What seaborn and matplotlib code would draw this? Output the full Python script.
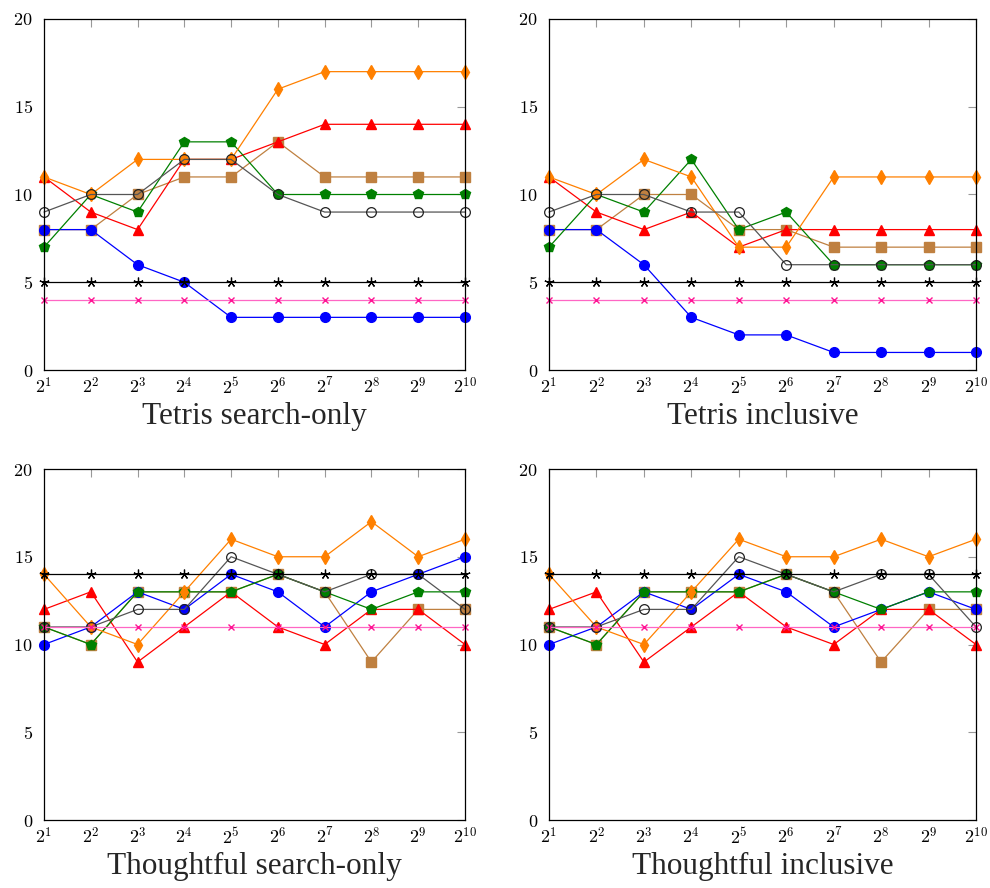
import matplotlib
matplotlib.use("Agg")
import matplotlib.pyplot as plt
import seaborn as sns
import numpy as np

sns.set_theme(style="white")
plt.rcParams['mathtext.fontset'] = 'cm'
plt.rcParams['font.family'] = ['Liberation Serif', 'DejaVu Serif']

x_exp = [1, 2, 3, 4, 5, 6, 7, 8, 9, 10]
x_labels = [r'$2^{%d}$' % e for e in x_exp]
y_ticks = [0, 5, 10, 15, 20]
titles = ["Tetris search-only", "Tetris inclusive",
          "Thoughtful search-only", "Thoughtful inclusive"]

# Tetris search-only
ts_brown = [8, 8, 10, 11, 11, 13, 11, 11, 11, 11]
ts_blue = [8, 8, 6, 5, 3, 3, 3, 3, 3, 3]
ts_red = [11, 9, 8, 12, 12, 13, 14, 14, 14, 14]
ts_green = [7, 10, 9, 13, 13, 10, 10, 10, 10, 10]
ts_orange = [11, 10, 12, 12, 12, 16, 17, 17, 17, 17]
ts_circle = [9, 10, 10, 12, 12, 10, 9, 9, 9, 9]
ts_star = [5, 5, 5, 5, 5, 5, 5, 5, 5, 5]
ts_cross = [4, 4, 4, 4, 4, 4, 4, 4, 4, 4]

# Tetris inclusive
ti_brown = [8, 8, 10, 10, 8, 8, 7, 7, 7, 7]
ti_blue = [8, 8, 6, 3, 2, 2, 1, 1, 1, 1]
ti_red = [11, 9, 8, 9, 7, 8, 8, 8, 8, 8]
ti_green = [7, 10, 9, 12, 8, 9, 6, 6, 6, 6]
ti_orange = [11, 10, 12, 11, 7, 7, 11, 11, 11, 11]
ti_circle = [9, 10, 10, 9, 9, 6, 6, 6, 6, 6]
ti_star = [5, 5, 5, 5, 5, 5, 5, 5, 5, 5]
ti_cross = [4, 4, 4, 4, 4, 4, 4, 4, 4, 4]

# Thoughtful search-only
hs_brown = [11, 10, 13, 13, 13, 14, 13, 9, 12, 12]
hs_blue = [10, 11, 13, 12, 14, 13, 11, 13, 14, 15]
hs_red = [12, 13, 9, 11, 13, 11, 10, 12, 12, 10]
hs_green = [11, 10, 13, 13, 13, 14, 13, 12, 13, 13]
hs_orange = [14, 11, 10, 13, 16, 15, 15, 17, 15, 16]
hs_circle = [11, 11, 12, 12, 15, 14, 13, 14, 14, 12]
hs_star = [14, 14, 14, 14, 14, 14, 14, 14, 14, 14]
hs_cross = [11, 11, 11, 11, 11, 11, 11, 11, 11, 11]

# Thoughtful inclusive
hi_brown = [11, 10, 13, 13, 13, 14, 13, 9, 12, 12]
hi_blue = [10, 11, 13, 12, 14, 13, 11, 12, 13, 12]
hi_red = [12, 13, 9, 11, 13, 11, 10, 12, 12, 10]
hi_green = [11, 10, 13, 13, 13, 14, 13, 12, 13, 13]
hi_orange = [14, 11, 10, 13, 16, 15, 15, 16, 15, 16]
hi_circle = [11, 11, 12, 12, 15, 14, 13, 14, 14, 11]
hi_star = [14, 14, 14, 14, 14, 14, 14, 14, 14, 14]
hi_cross = [11, 11, 11, 11, 11, 11, 11, 11, 11, 11]

panels = [
    [ts_brown, ts_blue, ts_red, ts_green, ts_orange, ts_circle, ts_star, ts_cross],
    [ti_brown, ti_blue, ti_red, ti_green, ti_orange, ti_circle, ti_star, ti_cross],
    [hs_brown, hs_blue, hs_red, hs_green, hs_orange, hs_circle, hs_star, hs_cross],
    [hi_brown, hi_blue, hi_red, hi_green, hi_orange, hi_circle, hi_star, hi_cross],
]

# style per series (same order as data lists)
styles = [
    dict(color='#bf8040', marker='s', mfc='#bf8040', mec='#bf8040', ms=6.5, mew=1.0),
    dict(color='#0000ff', marker='o', mfc='#0000ff', mec='#0000ff', ms=7, mew=1.0),
    dict(color='#ff0000', marker='^', mfc='#ff0000', mec='#ff0000', ms=6.5, mew=1.0),
    dict(color='#008000', marker='p', mfc='#008000', mec='#008000', ms=7, mew=1.0),
    dict(color='#ff8000', marker='d', mfc='#ff8000', mec='#ff8000', ms=7, mew=1.0),
    dict(color='#555555', marker='o', mfc='none', mec='#222222', ms=7, mew=0.9),
    dict(color='#000000', marker=(5, 2, 0), mfc='#000000', mec='#000000', ms=7, mew=0.9),
    dict(color='#ff66c4', marker='x', mfc='#ff00aa', mec='#ff1493', ms=5, mew=1.0),
]

fig = plt.figure(figsize=(9.9, 8.88), dpi=100)
W, H = 990, 888
boxes = [(44, 19, 465, 370), (549, 19, 976, 370),
         (44, 469, 465, 820), (549, 469, 976, 820)]

for i, (box, series) in enumerate(zip(boxes, panels)):
    l, t, r, b = box
    ax = fig.add_axes([l / W, 1 - b / H, (r - l) / W, (b - t) / H])
    for vals, st in zip(series, styles):
        sns.lineplot(x=x_exp, y=vals, ax=ax, color=st['color'], linewidth=0.9,
                     marker=st['marker'], markersize=st['ms'],
                     markerfacecolor=st['mfc'], markeredgecolor=st['mec'],
                     markeredgewidth=st['mew'], clip_on=False)
    ax.set_xlim(1, 10)
    ax.set_ylim(0, 20)
    ax.set_xticks(x_exp)
    ax.set_xticklabels(x_labels, fontsize=13)
    ax.set_yticks(y_ticks)
    ax.set_yticklabels([r'$%d$' % v for v in y_ticks], fontsize=13)
    ax.tick_params(axis='both', direction='in', length=6, width=0.8,
                   color='#999999', top=True, right=True, labelcolor='black')
    ax.tick_params(axis='x', pad=5)
    ax.tick_params(axis='y', pad=8)
    for s in ax.spines.values():
        s.set_color('black')
        s.set_linewidth(0.9)
        s.set_zorder(5)
    ax.set_xlabel(titles[i], fontsize=22.5, labelpad=3)
    ax.set_ylabel('')
    ax.set_facecolor('white')
    ax.grid(False)

fig.savefig('out.png', dpi=100, facecolor='white')
